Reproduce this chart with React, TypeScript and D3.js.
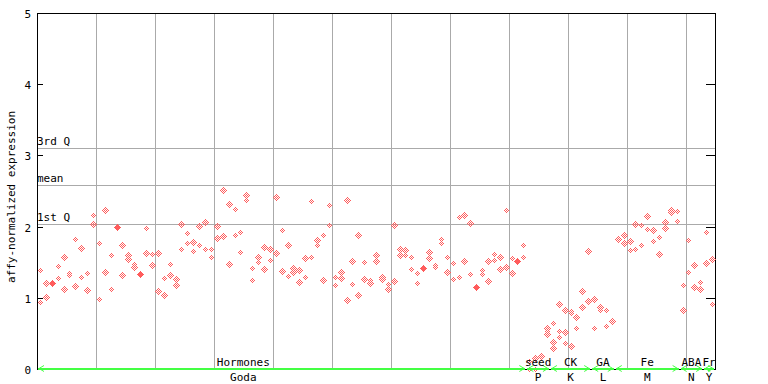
import React from "react";
import * as d3 from "d3";

const yTicks = [0, 1, 2, 3, 4, 5];
const quartileNames = ["3rd Q", "mean", "1st Q"];
const quartileValues = [3.1, 2.58, 2.04];

const columns: number[][] = [
  [1.39, 0.94], [1.21, 1.01], [1.21, 1.21], [1.44, 1.28], [1.57, 1.12],
  [1.35, 1.32], [1.82, 1.16], [1.70, 1.29], [1.35, 1.11], [2.16, 2.03],
  [1.77, 0.98], [2.23, 1.36], [1.60, 1.13], [1.99, 1.99], [1.74, 1.32],
  [1.60, 1.54], [1.47, 1.43], [1.34, 1.34], [1.98, 1.63], [1.61, 1.46],
  [1.63, 1.09], [1.28, 1.04], [1.47, 1.32], [1.26, 1.18], [2.03, 1.68],
  [1.91, 1.77], [1.79, 1.66], [2.01, 1.74], [2.07, 1.68], [1.68, 1.58],
  [2.01, 1.84], [2.51, 1.87], [2.32, 1.47], [2.25, 1.88], [1.92, 1.64],
  [2.44, 2.37], [1.42, 1.25], [1.58, 1.50], [1.71, 1.40], [1.68, 1.53],
  [2.41, 1.63], [1.95, 1.37], [1.74, 1.30], [1.42, 1.36], [1.39, 1.22],
  [1.56, 1.29], [2.36, 1.58], [1.81, 1.74], [1.88, 1.25], [2.30, 2.02],
  [1.29, 1.18], [1.36, 1.28], [2.37, 0.97], [1.51, 1.19], [1.88, 1.04],
  [1.50, 1.26], [1.25, 1.21], [1.60, 1.51], [1.29, 1.26], [1.19, 1.13],
  [2.02, 1.23], [1.68, 1.60], [1.67, 1.60], [1.57, 1.40], [1.35, 1.21],
  [1.42, 1.42], [1.64, 1.56], [1.46, 1.43], [1.82, 1.77], [1.58, 1.36],
  [1.49, 1.26], [2.13, 1.29], [2.16, 1.51], [2.05, 1.33], [1.15, 1.15],
  [1.39, 1.33], [1.51, 1.23], [1.61, 1.53], [1.57, 1.40], [2.23, 1.43],
  [1.56, 1.35], [1.51, 1.51], [1.74, 1.57],
  [0.11, 0.0], [0.15, 0.0], [0.18], [0.57, 0.53, 0.49],
  [0.64, 0.38, 0.29], [0.91, 0.53, 0.45], [0.83, 0.52, 0.37], [0.81, 0.78, 0.32],
  [0.75, 0.73, 0.57], [1.09, 0.87], [1.66, 0.95],
  [0.99, 0.57], [0.87, 0.83], [0.83, 0.61], [0.68],
  [1.82], [1.88, 1.77], [1.80, 1.67], [2.03, 1.68], [2.02, 1.74],
  [2.15, 1.96], [1.95, 1.80], [1.85, 1.61], [2.06, 1.98], [2.23, 2.20],
  [2.22, 2.08],
  [1.18, 0.83], [1.81, 1.36], [1.46, 1.15], [1.22, 1.13],
  [1.92, 1.49], [1.54, 0.91],
];

const groupNames = ["Hormones", "seed", "CK", "GA", "Fe", "ABA", "Fr"];
const groupCodes = ["Goda", "P", "K", "L", "M", "N", "Y"];
const groupStarts = [0, 83, 87, 94, 98, 109, 113];
const groupEnds = [82, 86, 93, 97, 108, 112, 114];
// column the group's label sits over (the Hormones label is not centred on its span)
const groupLabelCols = [34.5, 84.5, 90, 95.5, 103, 110.5, 113.5];

const W = 768, H = 384;
const L = 37, R = 715, T = 13, B = 369;
const FONT = "DejaVu Sans Mono, monospace";
const RED = "#ff5c5c";
const GREEN = "#44ff44";

export default function App() {
  const idx = columns.map((_, i) => i);
  const x = d3.scaleBand<number>().domain(idx).range([L, R]);
  const xl = d3.scaleLinear().domain([0, columns.length]).range([L, R]);
  const y = d3.scaleLinear().domain([0, 5]).range([B, T]);
  const bw = x.bandwidth();
  const cx = (i: number) => Math.round((x(i) as number) + bw / 2);
  const vgrid = idx.filter((i) => i > 0 && i % 10 === 0);

  const diamond = (px: number, py: number) =>
    `M${px + 0.5},${py - 3}L${px + 4},${py + 0.5}L${px + 0.5},${py + 4}L${px - 3},${py + 0.5}Z`;

  const pts: { px: number; py: number; solid: boolean; key: string }[] = [];
  columns.forEach((vals, i) => {
    vals.forEach((v, j) => {
      const dup = vals.filter((w) => w === v).length > 1;
      if (dup && vals.indexOf(v) !== j) return;
      pts.push({ px: cx(i), py: Math.round(y(v)), solid: dup, key: `${i}-${j}` });
    });
  });

  return (
    <svg width={W} height={H} style={{ position: "absolute", left: 0, top: 0, background: "#fff" }}
      shapeRendering="crispEdges">
      <defs>
        <pattern id="chk" patternUnits="userSpaceOnUse" width={2} height={2}>
          <rect x={0} y={0} width={1} height={1} fill={RED} />
          <rect x={1} y={1} width={1} height={1} fill={RED} />
        </pattern>
      </defs>
      {vgrid.map((i) => (
        <line key={`v${i}`} x1={Math.round(x(i) as number) + 0.5} x2={Math.round(x(i) as number) + 0.5}
          y1={T} y2={B} stroke="#aaaaaa" strokeWidth={1} />
      ))}
      {quartileValues.map((q, k) => (
        <g key={`q${k}`}>
          <line x1={L} x2={R} y1={Math.round(y(q)) + 0.5} y2={Math.round(y(q)) + 0.5} stroke="#aaaaaa" />
          <text x={L} y={Math.round(y(q)) - 3} fontFamily={FONT} fontSize={11} fill="#000">{quartileNames[k]}</text>
        </g>
      ))}
      <line x1={L + 0.5} x2={L + 0.5} y1={T} y2={B + 1} stroke="#000" />
      <line x1={R + 0.5} x2={R + 0.5} y1={T} y2={B + 1} stroke="#000" />
      <line x1={L} x2={R + 1} y1={T + 0.5} y2={T + 0.5} stroke="#000" />
      <line x1={L} x2={R + 1} y1={B + 0.5} y2={B + 0.5} stroke="#000" />
      {yTicks.map((t) => {
        const ty = Math.round(y(t)) + 0.5;
        return (
          <g key={`t${t}`}>
            <line x1={L} x2={L + 6} y1={ty} y2={ty} stroke="#000" />
            <line x1={R - 9} x2={R} y1={ty} y2={ty} stroke="#000" />
            <text x={31} y={ty + 4} textAnchor="end" fontFamily={FONT} fontSize={11} fill="#000">{t}</text>
          </g>
        );
      })}
      <text transform={`translate(15,${(T + B) / 2 + 6}) rotate(-90)`} textAnchor="middle"
        fontFamily={FONT} fontSize={11} fill="#000">affy-normalized expression</text>
      <g shapeRendering="crispEdges">
        {pts.map((p) => (
          <path key={p.key} d={diamond(p.px, p.py)} fill={p.solid ? RED : "url(#chk)"} />
        ))}
      </g>
      {groupNames.map((g, k) => {
        const x0 = x(groupStarts[k]) as number;
        const x1 = (x(groupEnds[k]) as number) + bw;
        const mid = xl(groupLabelCols[k] + 0.5);
        const gy = B - 0.5;
        return (
          <g key={`g${k}`}>
            <line x1={x0 + 1} x2={x1 - 1} y1={gy} y2={gy} stroke={GREEN} strokeWidth={2} />
            <path d={`M${x0 + 7},${gy - 3}L${x0 + 2},${gy}L${x0 + 7},${gy + 3}`} fill="none" stroke={GREEN} strokeWidth={1} shapeRendering="auto" />
            <path d={`M${x1 - 7},${gy - 3}L${x1 - 2},${gy}L${x1 - 7},${gy + 3}`} fill="none" stroke={GREEN} strokeWidth={1} shapeRendering="auto" />
            <text x={mid} y={366} textAnchor="middle" fontFamily={FONT} fontSize={11} fill="#000">{g}</text>
            <text x={mid} y={381} textAnchor="middle" fontFamily={FONT} fontSize={11} fill="#000">{groupCodes[k]}</text>
          </g>
        );
      })}
    </svg>
  );
}
